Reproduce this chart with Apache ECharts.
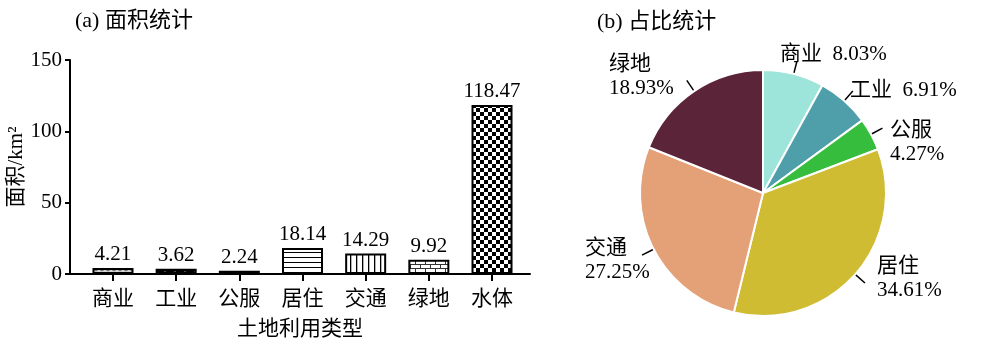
<!DOCTYPE html>
<html>
<head>
<meta charset="utf-8">
<script src="https://cdn.jsdelivr.net/npm/echarts@6/dist/echarts.min.js"></script>
<style>
html,body{margin:0;padding:0;background:#fff;}
#chart{width:1000px;height:345px;}
</style>
</head>
<body>
<div id="chart"></div>
<script>
// ---------- data ----------
const categories = ['商业', '工业', '公服', '居住', '交通', '绿地', '水体'];
const areaValues = [4.21, 3.62, 2.24, 18.14, 14.29, 9.92, 118.47];
const yTicks = [0, 50, 100, 150];
const pieNames = ['商业', '工业', '公服', '居住', '交通', '绿地'];
const pieShares = [8.03, 6.91, 4.27, 34.61, 27.25, 18.93];
const pieColors = ['#9de5da', '#4e9faa', '#36bd3d', '#cfbc33', '#e4a077', '#5c2439'];

// ---------- styles ----------
const FONT = "'Liberation Serif', 'Noto Sans CJK SC', serif";

function pat(w, h, draw) {
  const c = document.createElement('canvas');
  c.width = w; c.height = h;
  const g = c.getContext('2d');
  draw(g, w, h);
  return { image: c, repeat: 'repeat' };
}
const barPatterns = [
  // 商业: light grey with zigzag
  pat(6, 4, (g, w, h) => {
    g.fillStyle = '#d4d4d4'; g.fillRect(0, 0, w, h);
    g.strokeStyle = '#666'; g.lineWidth = 1;
    g.beginPath(); g.moveTo(0, 3); g.lineTo(3, 1); g.lineTo(6, 3); g.stroke();
  }),
  // 工业: black with white dots
  pat(10, 6, (g, w, h) => {
    g.fillStyle = '#000'; g.fillRect(0, 0, w, h);
    g.fillStyle = '#fff'; g.beginPath(); g.arc(5, 3, 1.6, 0, Math.PI * 2); g.fill();
  }),
  // 公服: plain white
  pat(4, 4, (g, w, h) => { g.fillStyle = '#fff'; g.fillRect(0, 0, w, h); }),
  // 居住: horizontal lines
  pat(5, 5, (g, w, h) => {
    g.fillStyle = '#fff'; g.fillRect(0, 0, w, h);
    g.fillStyle = '#000'; g.fillRect(0, 2, w, 1);
  }),
  // 交通: vertical lines
  pat(6, 6, (g, w, h) => {
    g.fillStyle = '#fff'; g.fillRect(0, 0, w, h);
    g.fillStyle = '#000'; g.fillRect(2, 0, 1.3, h);
  }),
  // 绿地: bricks
  pat(10, 8, (g, w, h) => {
    g.fillStyle = '#fff'; g.fillRect(0, 0, w, h);
    g.fillStyle = '#333';
    g.fillRect(0, 0, w, 1); g.fillRect(0, 4, w, 1);
    g.fillRect(0, 0, 1, 4); g.fillRect(5, 4, 1, 4);
  }),
  // 水体: checkerboard
  pat(8, 8, (g, w, h) => {
    g.fillStyle = '#fff'; g.fillRect(0, 0, w, h);
    g.fillStyle = '#000'; g.fillRect(0, 0, 4, 4); g.fillRect(4, 4, 4, 4);
  })
];

// label anchor positions for the pie (text layout only)
const pieLabelPos = [[780, 54], [850, 90], [890, 142], [877, 278], [585, 260], [609, 76]];

const chart = echarts.init(document.getElementById('chart'), null, { renderer: 'canvas' });

const option = {
  backgroundColor: '#fff',
  animation: false,
  textStyle: { fontFamily: FONT },
  title: [
    { text: '(a) 面积统计', left: 70, top: 5, textStyle: { fontFamily: FONT, fontSize: 22, fontWeight: 'normal', color: '#000' } },
    { text: '(b) 占比统计', left: 592, top: 6, textStyle: { fontFamily: FONT, fontSize: 22, fontWeight: 'normal', color: '#000' } }
  ],
  grid: [
    { left: 81.4, width: 442.2, top: 60, height: 214 },
    { left: 70, width: 460, top: 60, height: 214 }
  ],
  xAxis: [
    {
      type: 'category', gridIndex: 0, data: categories,
      axisLine: { show: false },
      axisTick: { show: true, alignWithLabel: true, length: 7, lineStyle: { color: '#000', width: 2 } },
      axisLabel: { color: '#000', fontSize: 21, fontFamily: FONT, margin: 15 }
    },
    {
      type: 'value', gridIndex: 1, min: 0, max: 1,
      axisLine: { show: true, lineStyle: { color: '#000', width: 2 } },
      axisTick: { show: false }, axisLabel: { show: false }, splitLine: { show: false },
      name: '土地利用类型', nameLocation: 'middle', nameGap: 45,
      nameTextStyle: { color: '#000', fontSize: 21, fontFamily: FONT }
    }
  ],
  yAxis: [
    { type: 'value', gridIndex: 0, min: yTicks[0], max: yTicks[yTicks.length - 1], show: false },
    {
      type: 'value', gridIndex: 1, min: yTicks[0], max: yTicks[yTicks.length - 1], interval: yTicks[1] - yTicks[0],
      axisLine: { show: true, lineStyle: { color: '#000', width: 2 } },
      axisTick: { show: true, length: 5, lineStyle: { color: '#000', width: 2 } },
      axisLabel: { color: '#000', fontSize: 21, fontFamily: FONT, margin: 8 },
      splitLine: { show: false },
      name: '面积/km²', nameLocation: 'middle', nameGap: 40, nameRotate: 90,
      nameTextStyle: { color: '#000', fontSize: 21, fontFamily: FONT }
    }
  ],
  series: [
    {
      type: 'bar', xAxisIndex: 0, yAxisIndex: 0, barWidth: 41,
      data: areaValues.map((v, i) => ({ value: v, itemStyle: { color: barPatterns[i] } })),
      itemStyle: { borderColor: '#000', borderWidth: 2 },
      label: {
        show: true, position: 'top', distance: 3, color: '#000', fontSize: 21, fontFamily: FONT,
        formatter: p => p.value.toFixed(2)
      }
    },
    {
      type: 'pie', center: [763, 193], radius: 123, startAngle: 90, clockwise: true,
      avoidLabelOverlap: false,
      data: pieShares.map((v, i) => ({ name: pieNames[i], value: v, itemStyle: { color: pieColors[i] } })),
      itemStyle: { borderColor: '#fff', borderWidth: 2 },
      label: { show: true, formatter: '·', color: 'rgba(0,0,0,0)', fontSize: 4, distanceToLabelLine: 0 },
      labelLine: { show: true, length: 13, length2: 0, lineStyle: { color: '#000', width: 1.5 } }
    },
    {
      type: 'pie', center: [763, 193], radius: 123, startAngle: 90, clockwise: true,
      avoidLabelOverlap: false, silent: true,
      data: pieShares.map((v, i) => ({ name: pieNames[i], value: v })),
      itemStyle: { color: 'rgba(0,0,0,0)', borderWidth: 0 },
      label: {
        show: true, color: '#000', fontSize: 21, fontFamily: FONT, lineHeight: 24,
        formatter: p => (p.dataIndex < 2 ? p.name + '  ' + p.value.toFixed(2) + '%' : p.name + '\n' + p.value.toFixed(2) + '%')
      },
      labelLine: { show: false },
      labelLayout: p => ({ x: pieLabelPos[p.dataIndex][0], y: pieLabelPos[p.dataIndex][1], align: 'left', verticalAlign: 'middle' })
    }
  ]
};
chart.setOption(option);
</script>
</body>
</html>
